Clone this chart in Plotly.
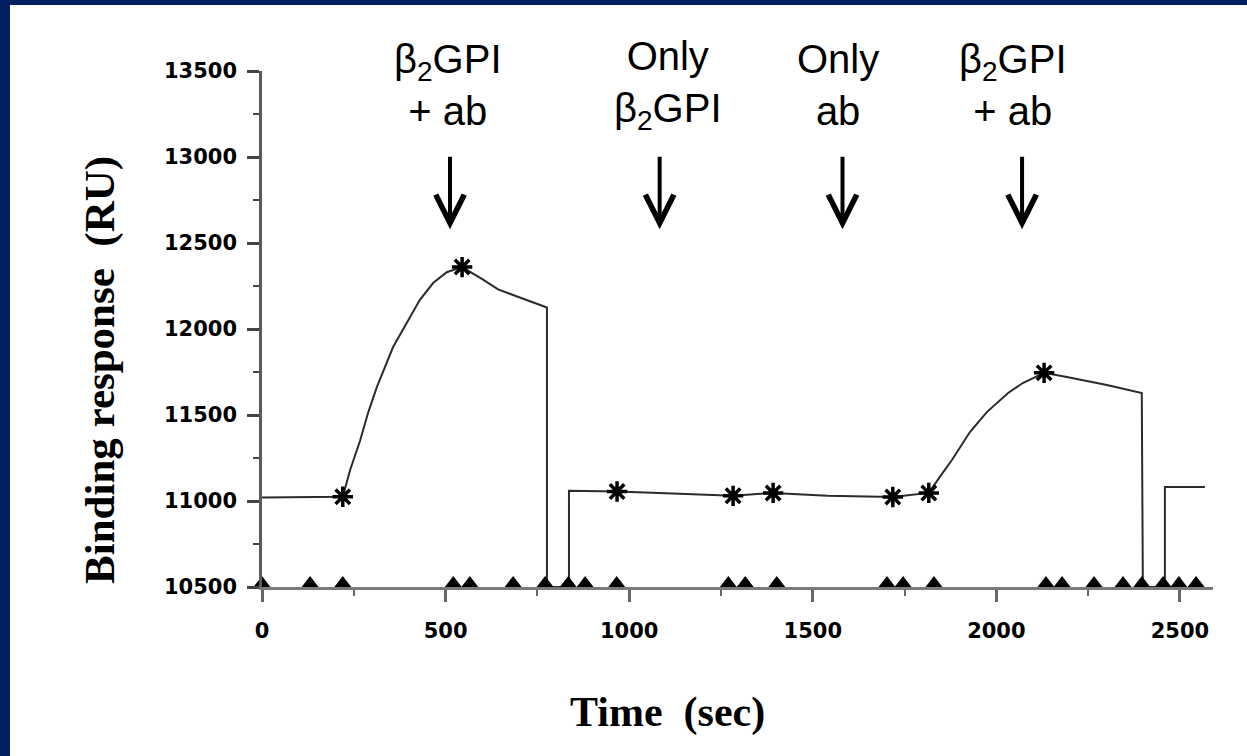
import plotly.graph_objects as go

# sensorgram trace (time in sec, response in RU)
t_line = [0, 220, 240, 267, 290, 313, 357, 398, 430, 466, 503, 545, 600, 643, 700, 776, 776, 836, 836,
          967, 1100, 1283, 1392, 1540, 1718, 1816, 1846, 1879, 1928, 1974, 2032, 2072, 2130, 2192,
          2301, 2396, 2399, 2459, 2459, 2568]
ru_line = [11020, 11025, 11180, 11350, 11520, 11663, 11895, 12052, 12170, 12267, 12330, 12360, 12290,
           12230, 12185, 12125, 10500, 10500, 11060, 11055, 11045, 11030, 11047, 11030, 11023, 11047,
           11140, 11238, 11401, 11517, 11628, 11686, 11745, 11721, 11674, 11628, 10500, 10500, 11081,
           11081]

# report points (asterisks)
t_star = [220, 545, 967, 1283, 1392, 1718, 1816, 2130]
ru_star = [11025, 12360, 11055, 11030, 11047, 11023, 11047, 11745]

# event markers on the time axis
t_event = [0, 131, 220, 521, 566, 684, 771, 834, 880, 966, 1270, 1316, 1402, 1702, 1746, 1830,
           2135, 2179, 2266, 2345, 2396, 2454, 2497, 2544]

# injections
inj_labels = ["β<sub>2</sub>GPI<br>+ ab", "Only<br>β<sub>2</sub>GPI", "Only<br>ab", "β<sub>2</sub>GPI<br>+ ab"]
inj_text_t = [507, 1106, 1569, 2045]
inj_arrow_t = [512, 1083, 1581, 2070]

W, H = 1247, 756
ML, MR, MT, MB = 262, 34, 71, 169
pw, ph = W - ML - MR, H - MT - MB

fig = go.Figure()

fig.add_trace(go.Scatter(x=t_line, y=ru_line, mode="lines",
                         line=dict(color="#2b2b2b", width=2), cliponaxis=False))
# small lift so triangles sit on the axis line
fig.add_trace(go.Scatter(x=t_event, y=[10500 + 18] * len(t_event), mode="markers",
                         marker=dict(symbol="triangle-up", size=16, color="black"),
                         cliponaxis=False))
fig.add_trace(go.Scatter(x=t_star, y=ru_star, mode="markers",
                         marker=dict(symbol="asterisk", size=17, color="black",
                                     line=dict(color="black", width=3.5)),
                         cliponaxis=False))
fig.add_trace(go.Scatter(x=t_star, y=ru_star, mode="markers",
                         marker=dict(symbol="circle", size=8, color="black"),
                         cliponaxis=False))

for lab, tx in zip(inj_labels, inj_text_t):
    fig.add_annotation(x=tx, y=13420, xref="x", yref="y", text=lab, showarrow=False,
                       font=dict(family="Liberation Sans, Arial", size=40, color="black"),
                       align="center", xanchor="center", yanchor="middle")
for tx in inj_arrow_t:
    fig.add_annotation(x=tx, y=12580, ax=tx, ay=13010, xref="x", yref="y", axref="x", ayref="y",
                       text="", showarrow=True, arrowhead=5, arrowsize=1.4, arrowwidth=4,
                       arrowcolor="black")

# axis titles, placed by pixel position
fig.add_annotation(x=(100 - ML) / pw, y=1 - (370 - MT) / ph, xref="paper", yref="paper",
                   text="Binding response  (RU)", showarrow=False, textangle=-90,
                   xanchor="center", yanchor="middle",
                   font=dict(family="Liberation Serif, Times New Roman", size=43, color="black",
                             weight="bold"))
fig.add_annotation(x=(667 - ML) / pw, y=1 - (712 - MT) / ph, xref="paper", yref="paper",
                   text="Time  (sec)", showarrow=False,
                   xanchor="center", yanchor="middle",
                   font=dict(family="Liberation Serif, Times New Roman", size=42, color="black",
                             weight="bold"))

# navy frame on the left and top
fig.add_shape(type="rect", xref="paper", yref="paper", layer="below", line_width=0,
              fillcolor="#002060", x0=-ML / pw, x1=(-ML + 10) / pw, y0=-MB / ph, y1=1 + MT / ph)
fig.add_shape(type="rect", xref="paper", yref="paper", layer="below", line_width=0,
              fillcolor="#002060", x0=-ML / pw, x1=1 + MR / pw, y0=1 + (MT - 5) / ph, y1=1 + MT / ph)

tickfont = dict(family="DejaVu Sans", size=21, color="black", weight="bold")
fig.update_xaxes(range=[0, 2590], tickvals=[0, 500, 1000, 1500, 2000, 2500], tickformat="d",
                 showgrid=False, zeroline=False, showline=True, linecolor="#7a7a7a", linewidth=3,
                 ticks="outside", ticklen=12, tickwidth=2.5, tickcolor="#666",
                 minor=dict(tickvals=[250, 750, 1250, 1750, 2250], ticks="outside", ticklen=6,
                            tickcolor="#666", tickwidth=2),
                 tickfont=tickfont, ticklabelstandoff=11)
fig.update_yaxes(range=[10500, 13500], tickvals=[10500, 11000, 11500, 12000, 12500, 13000, 13500],
                 tickformat="d",
                 showgrid=False, zeroline=False, showline=True, linecolor="#5a5a5a", linewidth=2.5,
                 ticks="outside", ticklen=12, tickwidth=2.5, tickcolor="#444",
                 minor=dict(tickvals=[10750, 11250, 11750, 12250, 12750, 13250], ticks="outside",
                            ticklen=6, tickcolor="#444", tickwidth=2),
                 tickfont=tickfont, ticklabelstandoff=6)

fig.update_layout(width=W, height=H, margin=dict(l=ML, r=MR, t=MT, b=MB),
                  paper_bgcolor="white", plot_bgcolor="white", showlegend=False)

fig.write_html("out.html", config={"displayModeBar": False},
               post_script="document.body.style.margin='0';"
                           "document.body.style.overflow='hidden';")
